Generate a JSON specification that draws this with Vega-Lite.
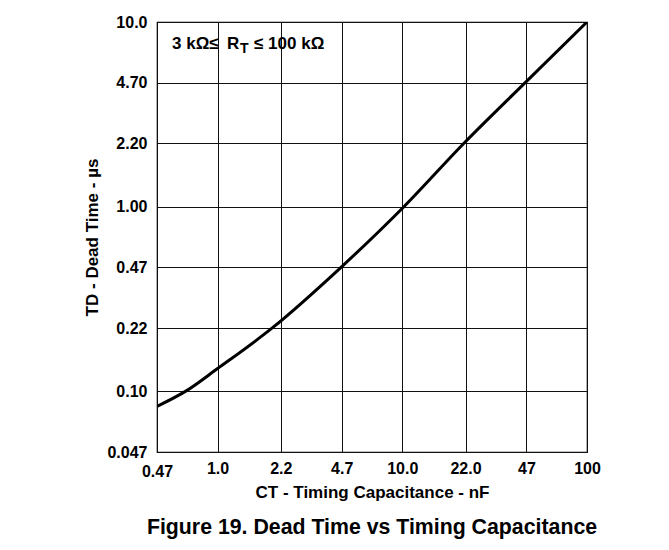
{
  "$schema": "https://vega.github.io/schema/vega-lite/v6.json",
  "width": 430,
  "height": 430,
  "autosize": "none",
  "padding": {"left": 157, "top": 22, "right": 82, "bottom": 98},
  "background": "white",
  "config": {
    "font": "Liberation Sans",
    "view": {"stroke": "#000", "strokeWidth": 1.2}
  },
  "title": {
    "text": "Figure 19. Dead Time vs Timing Capacitance",
    "orient": "bottom",
    "anchor": "middle",
    "font": "Liberation Sans",
    "fontSize": 21.3,
    "fontWeight": "bold",
    "color": "#000",
    "offset": 17
  },
  "datasets": {
    "curve": [
      {"cap": 0.47, "td": 0.083},
      {"cap": 0.68, "td": 0.101},
      {"cap": 1.0, "td": 0.133},
      {"cap": 1.97, "td": 0.22},
      {"cap": 4.66, "td": 0.47},
      {"cap": 10.2, "td": 1.0},
      {"cap": 21.5, "td": 2.2},
      {"cap": 46.3, "td": 4.7},
      {"cap": 100, "td": 10}
    ],
    "note": [{"cap": 0.567, "td": 7.1}]
  },
  "encoding": {
    "x": {
      "field": "cap",
      "type": "quantitative",
      "scale": {"type": "log", "domain": [0.47, 100], "nice": false},
      "axis": {
        "values": [0.47, 1, 2.2, 4.7, 10, 22, 47, 100],
        "labelExpr": "datum.value == 0.47 ? '0.47' : datum.value == 1 ? '1.0' : datum.value == 2.2 ? '2.2' : datum.value == 4.7 ? '4.7' : datum.value == 10 ? '10.0' : datum.value == 22 ? '22.0' : datum.value == 47 ? '47' : '100'",
        "title": "CT - Timing Capacitance - nF",
        "grid": true,
        "gridColor": "#111",
        "gridWidth": 1,
        "ticks": false,
        "domain": false,
        "labelFont": "Liberation Sans",
        "labelFontSize": 16,
        "labelFontWeight": "bold",
        "labelColor": "#000",
        "labelPadding": {"condition": {"test": "datum.value < 0.5", "value": 11}, "value": 8},
        "labelFlush": false,
        "labelOverlap": false,
        "titleFont": "Liberation Sans",
        "titleFontSize": 17,
        "titleFontWeight": "bold",
        "titleColor": "#000",
        "titlePadding": 5
      }
    },
    "y": {
      "field": "td",
      "type": "quantitative",
      "scale": {"type": "log", "domain": [0.047, 10], "nice": false},
      "axis": {
        "values": [0.047, 0.1, 0.22, 0.47, 1, 2.2, 4.7, 10],
        "labelExpr": "datum.value == 0.047 ? '0.047' : datum.value == 0.1 ? '0.10' : datum.value == 0.22 ? '0.22' : datum.value == 0.47 ? '0.47' : datum.value == 1 ? '1.00' : datum.value == 2.2 ? '2.20' : datum.value == 4.7 ? '4.70' : '10.0'",
        "title": "TD - Dead Time - µs",
        "grid": true,
        "gridColor": "#111",
        "gridWidth": 1,
        "ticks": false,
        "domain": false,
        "labelFont": "Liberation Sans",
        "labelFontSize": 16,
        "labelFontWeight": "bold",
        "labelColor": "#000",
        "labelPadding": 10,
        "labelFlush": false,
        "labelOverlap": false,
        "titleFont": "Liberation Sans",
        "titleFontSize": 17,
        "titleFontWeight": "bold",
        "titleColor": "#000",
        "titlePadding": 5
      }
    }
  },
  "layer": [
    {
      "data": {"name": "curve"},
      "mark": {"type": "line", "color": "#000", "strokeWidth": 3, "interpolate": "monotone", "clip": true}
    },
    {
      "data": {"name": "note"},
      "mark": {"type": "text", "text": "3 kΩ≤", "align": "left", "baseline": "alphabetic", "font": "Liberation Sans", "fontSize": 17, "fontWeight": "bold", "color": "#000"}
    },
    {
      "data": {"name": "note"},
      "mark": {"type": "text", "text": "R", "align": "left", "baseline": "alphabetic", "dx": 55, "font": "Liberation Sans", "fontSize": 17, "fontWeight": "bold", "color": "#000"}
    },
    {
      "data": {"name": "note"},
      "mark": {"type": "text", "text": "T", "align": "left", "baseline": "alphabetic", "dx": 68, "dy": 4, "font": "Liberation Sans", "fontSize": 14, "fontWeight": "bold", "color": "#000"}
    },
    {
      "data": {"name": "note"},
      "mark": {"type": "text", "text": "≤ 100 kΩ", "align": "left", "baseline": "alphabetic", "dx": 82, "font": "Liberation Sans", "fontSize": 17, "fontWeight": "bold", "color": "#000"}
    }
  ]
}
